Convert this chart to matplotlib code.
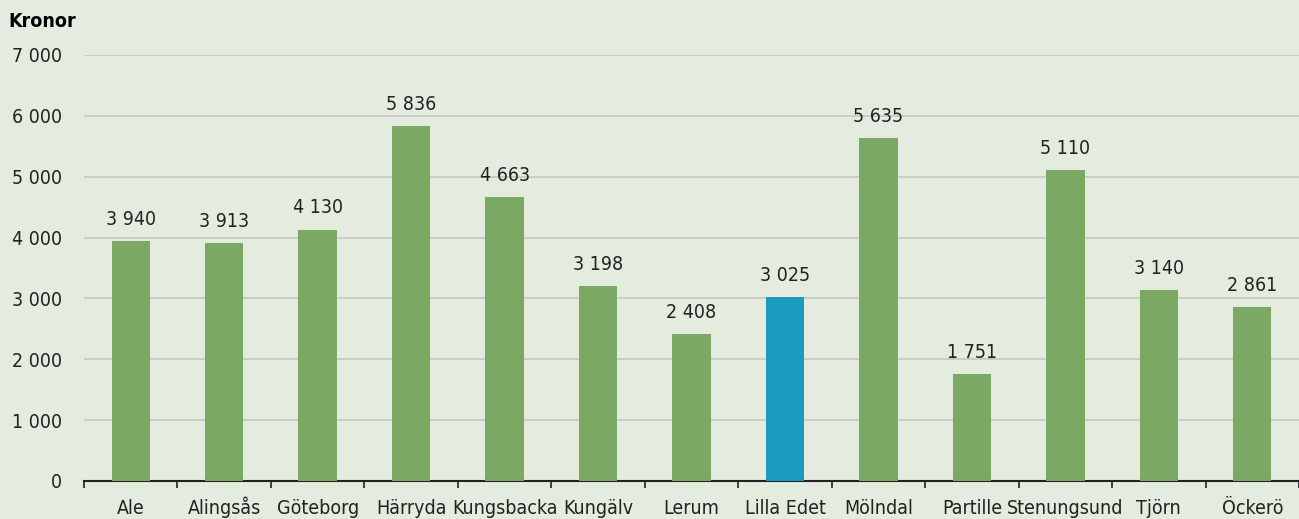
import matplotlib.pyplot as plt
import numpy as np

kommuner = ['Ale', 'Alingsås', 'Göteborg', 'Härryda', 'Kungsbacka', 'Kungälv', 'Lerum',
            'Lilla Edet', 'Mölndal', 'Partille', 'Stenungsund', 'Tjörn', 'Öckerö']
kronor = [3940, 3913, 4130, 5836, 4663, 3198, 2408, 3025, 5635, 1751, 5110, 3140, 2861]
markerad = 'Lilla Edet'

bg = '#e4ecdf'
plt.rcParams['font.family'] = ['DejaVu Sans']
plt.rcParams['font.stretch'] = 'condensed'

fig = plt.figure(figsize=(12.99, 5.19), dpi=100, facecolor=bg)
ax = fig.add_axes([84 / 1299, 1 - 481 / 519, 1 - 84 / 1299, (481 - 55) / 519])
ax.set_facecolor(bg)

x = np.arange(len(kommuner))
farger = ['#1a9abf' if k == markerad else '#7ba862' for k in kommuner]
ax.bar(x, kronor, width=0.41, color=farger, zorder=3)

fs = 14
for xi, v in zip(x, kronor):
    ax.text(xi, v + 200, f'{v:,}'.replace(',', ' '), ha='center', va='bottom',
            fontsize=fs, color='#222222', fontstretch='condensed')

ax.set_xlim(-0.5, len(kommuner) - 0.5)
ax.set_ylim(0, 7000)
yt = np.arange(0, 7001, 1000)
ax.set_yticks(yt)
ax.set_yticklabels([f'{v:,}'.replace(',', ' ') for v in yt], fontsize=fs, color='#222222',
                   fontstretch='condensed')
ax.tick_params(axis='y', length=0, pad=16)
ax.yaxis.grid(True, color='#c6c6c6', linewidth=1.2, zorder=0)
ax.set_axisbelow(True)

ax.set_xticks(x)
ax.set_xticklabels(kommuner, fontsize=fs, color='#222222', va='baseline',
                   fontstretch='condensed')
ax.set_xticks(np.arange(len(kommuner) + 1) - 0.5, minor=True)
ax.tick_params(axis='x', which='major', length=0, pad=24)
ax.tick_params(axis='x', which='minor', length=5, width=1.2, color='#222222')

for s in ['top', 'right', 'left']:
    ax.spines[s].set_visible(False)
ax.spines['bottom'].set_linewidth(1.5)
ax.spines['bottom'].set_color('#222222')

fig.text(8 / 1299, 1 - 22 / 519, 'Kronor', fontsize=fs, fontweight='bold', va='center',
         fontstretch='condensed')

fig.savefig('out.png', dpi=100, facecolor=bg)
